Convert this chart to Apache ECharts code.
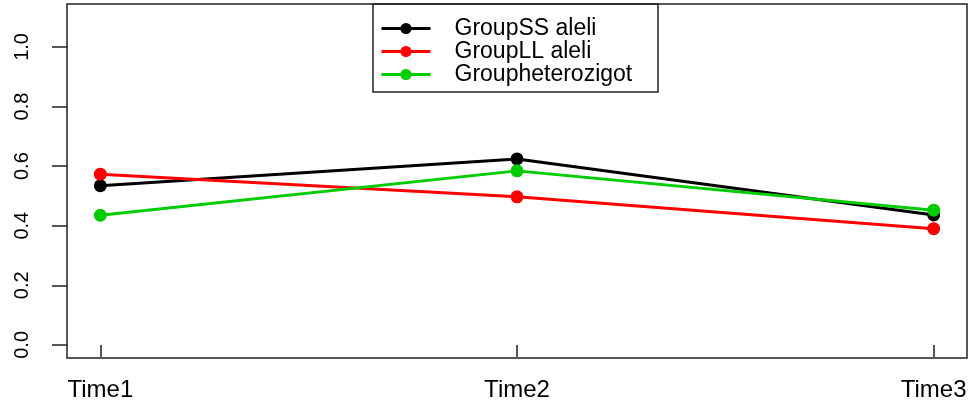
<!DOCTYPE html>
<html>
<head>
<meta charset="utf-8">
<script src="https://cdn.jsdelivr.net/npm/echarts@6/dist/echarts.min.js"></script>
<style>
html,body{margin:0;padding:0;background:#fff;}
#c{width:971px;height:409px;}
</style>
</head>
<body>
<div id="c"></div>
<script>
const categories = ['Time1', 'Time2', 'Time3'];
const groupSS = [0.534, 0.624, 0.436];
const groupLL = [0.573, 0.497, 0.390];
const groupHet = [0.435, 0.584, 0.452];
const yTicks = [0, 0.2, 0.4, 0.6, 0.8, 1.0];
const seriesNames = ['GroupSS aleli', 'GroupLL aleli', 'Groupheterozigot'];
const seriesColors = ['#000000', '#ff0000', '#00cc00'];
const seriesValues = [groupSS, groupLL, groupHet];

const FONT = 'Liberation Sans, Arial, sans-serif';
const chart = echarts.init(document.getElementById('c'), null, {renderer: 'canvas'});

const series = seriesNames.map((name, i) => ({
  name: name,
  type: 'line',
  data: seriesValues[i].map((v, j) => [j + 1, v]),
  lineStyle: {color: seriesColors[i], width: 3},
  itemStyle: {color: seriesColors[i]},
  symbol: 'circle',
  symbolSize: 13,
  showSymbol: true,
  animation: false
}));

chart.setOption({
  animation: false,
  backgroundColor: '#fff',
  grid: {left: 67, right: 4, top: 4, bottom: 51, show: true, borderColor: '#222', borderWidth: 1.5, backgroundColor: 'transparent'},
  xAxis: {
    type: 'value', min: 0.92, max: 3.08,
    axisLine: {show: false},
    splitLine: {show: false},
    axisTick: {show: true, length: 12, customValues: [1, 2, 3], lineStyle: {color: '#222', width: 1.5}},
    axisLabel: {customValues: [1, 2, 3], formatter: v => categories[Math.round(v) - 1] || '', fontSize: 24, fontFamily: FONT, color: '#000', margin: 20}
  },
  yAxis: {
    type: 'value', min: -0.044, max: 1.144,
    axisLine: {show: false},
    splitLine: {show: false},
    axisTick: {show: true, length: 15, customValues: yTicks, lineStyle: {color: '#222', width: 1.5}},
    axisLabel: {customValues: yTicks, rotate: 90, formatter: v => v.toFixed(1), fontSize: 20, fontFamily: FONT, color: '#000', margin: 35}
  },
  legend: {
    orient: 'vertical',
    left: 380, top: 17,
    itemWidth: 49, itemHeight: 14, itemGap: 0,
    padding: 0,
    lineStyle: {width: 3},
    textStyle: {fontSize: 23, lineHeight: 21.5, fontFamily: FONT, color: '#000', padding: [0, 0, 0, 19]},
    data: seriesNames
  },
  graphic: [{
    type: 'rect', shape: {x: 373, y: 4, width: 285, height: 88},
    style: {fill: 'none', stroke: '#222', lineWidth: 1.5}, z: 100, silent: true
  }],
  series: series
});
</script>
</body>
</html>
